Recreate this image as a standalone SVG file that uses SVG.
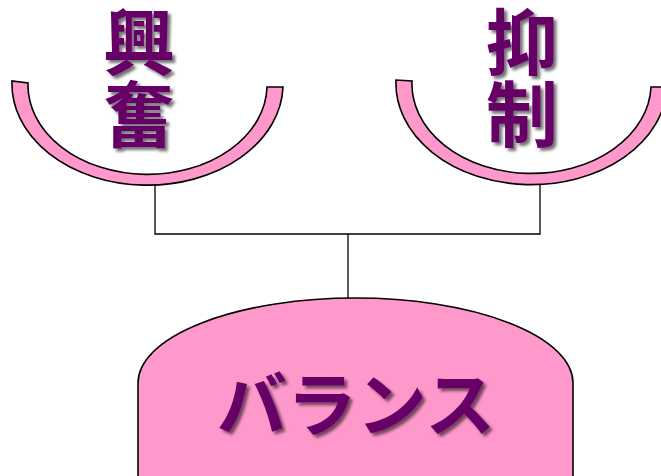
<svg xmlns="http://www.w3.org/2000/svg" width="661" height="476" viewBox="0 0 661 476">
<defs>
<filter id="sh" x="-20%" y="-20%" width="150%" height="150%">
<feDropShadow dx="3" dy="3" stdDeviation="1.5" flood-color="#000" flood-opacity="0.55"/>
</filter>
</defs>
<style>
.shape{fill:#FF99CC;stroke:#000;stroke-width:1.6}
.conn{fill:none;stroke:#000;stroke-width:1.3}
.lbl{font-family:"Noto Sans CJK JP","Noto Sans CJK SC",sans-serif;font-weight:700;fill:#660066;filter:url(#sh)}
</style>
<rect width="661" height="476" fill="#fff"/>
<g id="connectors">
<path class="conn" d="M155,185 V234 H540 V185"/>
<path class="conn" d="M348,234 V298"/>
</g>
<g id="bowl-left">
<path class="shape" d="M12,81 A130,97 0 0 0 283,87 L267,87 A115,86 0 0 1 28,83 Z"/>
<text class="lbl" x="139" y="69" font-size="72" text-anchor="middle">興</text>
<text class="lbl" x="139" y="141" font-size="72" text-anchor="middle">奮</text>
</g>
<g id="bowl-right">
<path class="shape" d="M396,80 A130,97 0 0 0 667,87 L651,87 A115,86 0 0 1 412,81 Z"/>
<text class="lbl" x="522" y="69" font-size="72" text-anchor="middle">抑</text>
<text class="lbl" x="522" y="141" font-size="72" text-anchor="middle">制</text>
</g>
<g id="balance">
<path class="shape" d="M138,480 V383 A217.5,85 0 0 1 573,383 V480 Z"/>
<text class="lbl" x="356" y="431" font-size="70" text-anchor="middle">バランス</text>
</g>
</svg>
